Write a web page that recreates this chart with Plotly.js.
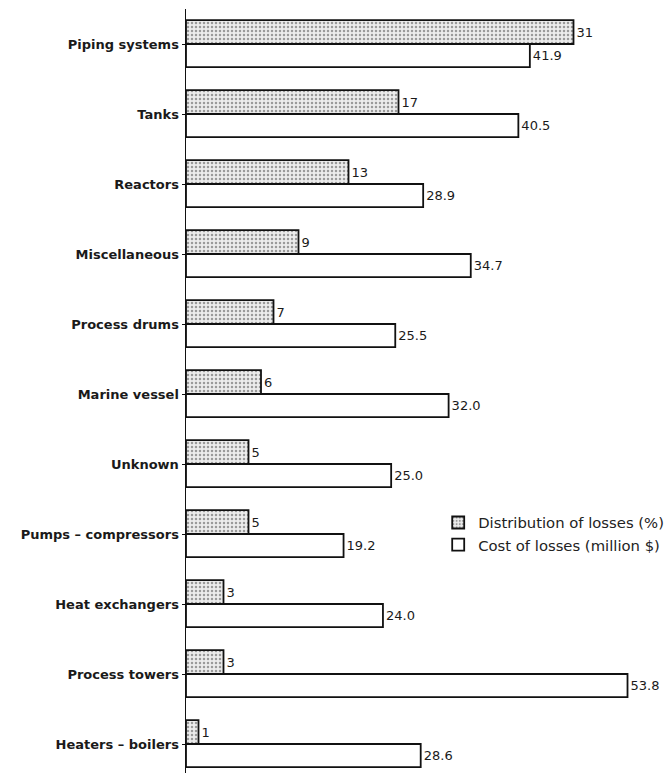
<!DOCTYPE html>
<html>
<head>
<meta charset="utf-8">
<script src="https://cdn.plot.ly/plotly-3.0.1.min.js"></script>
<style>html,body{margin:0;padding:0;background:#fff;}#chart{width:671px;height:773px;}</style>
</head>
<body>
<div id="chart"></div>
<script>
const categories = ["Piping systems","Tanks","Reactors","Miscellaneous","Process drums","Marine vessel","Unknown","Pumps – compressors","Heat exchangers","Process towers","Heaters – boilers"];
const distribution = [31,17,13,9,7,6,5,5,3,3,1];
const cost = [41.9,40.5,28.9,34.7,25.5,32.0,25.0,19.2,24.0,53.8,28.6];
const seriesNames = ["Distribution of losses (%)","Cost of losses (million $)"];

const labelFont = {family: "DejaVu Sans, Arial, sans-serif", size: 13, color: "#1a1a1a", weight: "bold"};
const valueFont = {family: "DejaVu Sans, Arial, sans-serif", size: 13, color: "#1a1a1a"};

const traces = [
  {
    type: "bar", orientation: "h", name: seriesNames[0],
    y: categories, x: distribution, xaxis: "x", yaxis: "y",
    width: 0.34, offset: -0.34,
    marker: {color: "#e6e6e6", line: {color: "#111", width: 1.8},
             pattern: {shape: ".", fgcolor: "#9a9a9a", bgcolor: "#ececec", size: 4, solidity: 0.3}},
    text: distribution.map(String), textposition: "outside", cliponaxis: false,
    textfont: valueFont
  },
  {
    type: "bar", orientation: "h", name: seriesNames[1],
    y: categories, x: cost, xaxis: "x2", yaxis: "y",
    width: 0.33, offset: 0,
    marker: {color: "#ffffff", line: {color: "#111", width: 1.8}},
    text: cost.map(v => v.toFixed(1)), textposition: "outside", cliponaxis: false,
    textfont: valueFont
  }
];

const layout = {
  width: 671, height: 773,
  margin: {l: 186, r: 0, t: 9, b: 0},
  paper_bgcolor: "#fff", plot_bgcolor: "#fff",
  font: {family: "DejaVu Sans, Arial, sans-serif", size: 12, color: "#111"},
  showlegend: true,
  legend: {x: 0.52, y: 0.349, xanchor: "left", yanchor: "top", bgcolor: "rgba(0,0,0,0)",
           font: {family: "DejaVu Sans, Arial, sans-serif", size: 14.8, color: "#222"}, tracegroupgap: 0},
  xaxis: {range: [0, 38.8], visible: false, fixedrange: true},
  xaxis2: {range: [0, 59.1], visible: false, overlaying: "x", fixedrange: true},
  yaxis: {type: "category", range: [10.414, -0.5], showline: true, linecolor: "#111", linewidth: 1.5,
          ticks: "outside", ticklen: 3, tickcolor: "#111", showgrid: false, zeroline: false,
          tickfont: labelFont, fixedrange: true}
};

Plotly.newPlot("chart", traces, layout, {displayModeBar: false, staticPlot: true});
</script>
</body>
</html>
